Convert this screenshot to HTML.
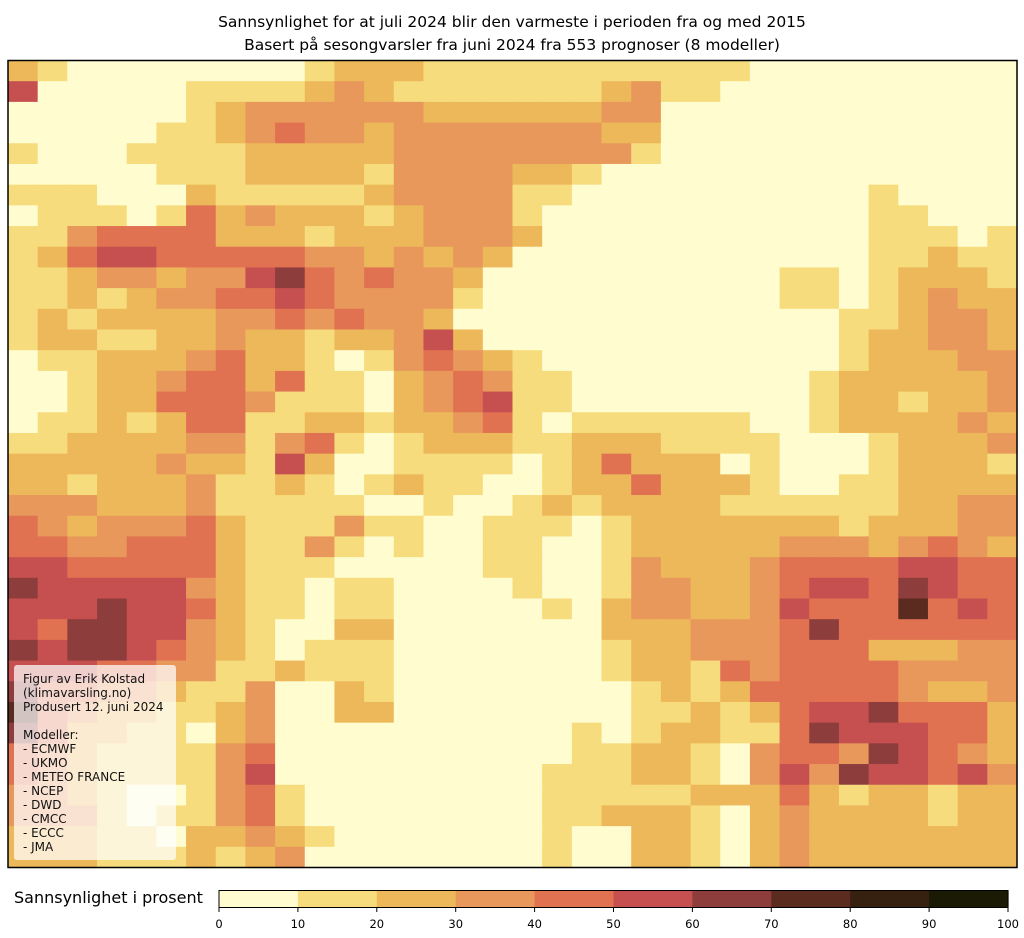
<!DOCTYPE html>
<html><head><meta charset="utf-8">
<style>
html,body{margin:0;padding:0;background:#fff;width:1024px;height:938px;overflow:hidden;font-family:"Liberation Sans","DejaVu Sans",sans-serif;}
svg{position:absolute;left:0;top:0;}
</style></head>
<body>
<svg id="s" width="1024" height="938" viewBox="0 0 1024 938" xmlns="http://www.w3.org/2000/svg">
<text x="512" y="27" text-anchor="middle" font-size="15.5" font-family="DejaVu Sans, Liberation Sans, sans-serif">Sannsynlighet for at juli 2024 blir den varmeste i perioden fra og med 2015</text>
<text x="512" y="50" text-anchor="middle" font-size="15.5" font-family="DejaVu Sans, Liberation Sans, sans-serif">Basert på sesongvarsler fra juni 2024 fra 553 prognoser (8 modeller)</text>
<g id="grid"></g>
<rect x="8" y="60.5" width="1009" height="807" fill="none" stroke="#000" stroke-width="1.5"/>
<rect x="14" y="665" width="162" height="195" rx="3" fill="#fff" fill-opacity="0.72"/>
<g font-size="12" font-family="DejaVu Sans, Liberation Sans, sans-serif" fill="#111">
<text x="23" y="683">Figur av Erik Kolstad</text>
<text x="23" y="697">(klimavarsling.no)</text>
<text x="23" y="711">Produsert 12. juni 2024</text>
<text x="23" y="739">Modeller:</text>
<text x="23" y="753">- ECMWF</text>
<text x="23" y="767">- UKMO</text>
<text x="23" y="781">- METEO FRANCE</text>
<text x="23" y="795">- NCEP</text>
<text x="23" y="809">- DWD</text>
<text x="23" y="823">- CMCC</text>
<text x="23" y="837">- ECCC</text>
<text x="23" y="851">- JMA</text>
</g>
<text x="14" y="903" font-size="16" font-family="DejaVu Sans, Liberation Sans, sans-serif">Sannsynlighet i prosent</text>
<g id="cb"></g>
<rect x="219" y="890.5" width="789" height="17" fill="none" stroke="#000" stroke-width="1"/>
<g id="ticks" font-size="11.5" font-family="DejaVu Sans, Liberation Sans, sans-serif" text-anchor="middle"></g>
</svg>
<script>
var C=["#fffccf","#f6dc7c","#edb85a","#e8985a","#e07252","#c65050","#8e3d3d","#5b2b20","#362010","#1a1a05"];
var R=[
"2100000000122211111111111000000000",
"5000001111232111111123110000000000",
"0000001233333322222233000000000000",
"0000011234332333333322000000000000",
"1000111122222333333331000000000000",
"0000011122221333322100000000000000",
"1110002111112333311000000000010000",
"0111014232221233310000000000011000",
"1134444222122233320000000000011101",
"1245544444332323200000000000011211",
"1123323356434332000000000011012221",
"1121233445433331000000000011012322",
"1212222334343320000000000000112332",
"1221122322122352000000000000122332",
"0112223422101343210000000000122233",
"0012234424110234311000000001222223",
"0012244431110234511000000001221223",
"0112124411221223410111111001222232",
"1122223313410122211222111100012223",
"2222232215200111101242220100012221",
"2212223112101211001224222100112222",
"3332223111110010012122221111112233",
"4323334211131100111012222222122233",
"4433444211310100110012222233323432",
"5544444211100000110013222344445544",
"6555553211011000010013322345546544",
"5556554211011000001023322354447454",
"5466553210022000000022233346444444",
"6566543210111000000012233344422233",
"5554433112111000000012214344443333",
"6443321130021000000001212444443223",
"7432211230022000000001121245564442",
"6422110230000000000101221146555442",
"4321111340000000000112210344365432",
"4321111350000000001112210353655453",
"3321001341000000001111122242122122",
"3331011341000000001122210232222122",
"2221102232100000001002210232222222",
"2221112123000000001002210232222222"];
var ns="http://www.w3.org/2000/svg",g=document.getElementById("grid");
var cw=1009/34,ch=807/39;
for(var r=0;r<R.length;r++){for(var c=0;c<34;c++){var v=+R[r][c];var e=document.createElementNS(ns,"rect");
e.setAttribute("x",(8+c*cw).toFixed(2));e.setAttribute("y",(60.5+r*ch).toFixed(2));
e.setAttribute("width",(cw+0.6).toFixed(2));e.setAttribute("height",(ch+0.6).toFixed(2));
e.setAttribute("fill",C[v]);g.appendChild(e);}}
var cb=document.getElementById("cb"),tk=document.getElementById("ticks");
for(var i=0;i<10;i++){var e=document.createElementNS(ns,"rect");e.setAttribute("x",219+i*78.9);e.setAttribute("y",890.5);e.setAttribute("width",79.5);e.setAttribute("height",17);e.setAttribute("fill",C[i]);cb.appendChild(e);}
for(var i=0;i<=10;i++){var x=219+i*78.9;var l=document.createElementNS(ns,"line");l.setAttribute("x1",x);l.setAttribute("x2",x);l.setAttribute("y1",907.5);l.setAttribute("y2",912);l.setAttribute("stroke","#000");tk.appendChild(l);
var t=document.createElementNS(ns,"text");t.setAttribute("x",x);t.setAttribute("y",928);t.textContent=String(i*10);tk.appendChild(t);}
</script>
</body></html>
